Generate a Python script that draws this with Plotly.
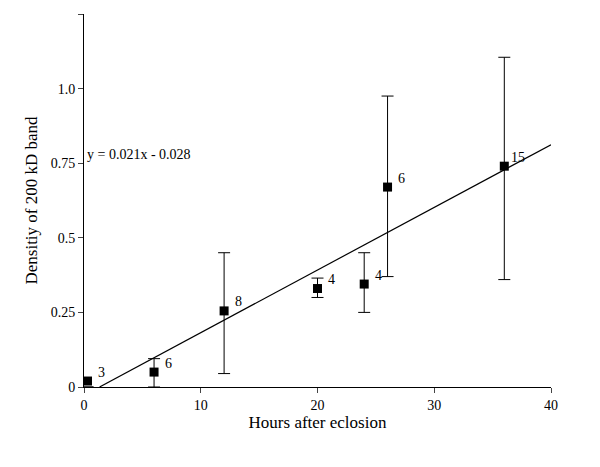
import plotly.graph_objects as go

hours = [0.3, 6, 12, 20, 24, 26, 36]
density = [0.02, 0.05, 0.255, 0.33, 0.345, 0.67, 0.74]
err_hi = [0.0, 0.095, 0.45, 0.365, 0.45, 0.975, 1.105]
err_lo = [0.0, 0.0, 0.045, 0.30, 0.25, 0.37, 0.36]
counts = ["3", "6", "8", "4", "4", "6", "15"]
slope, intercept = 0.021, -0.028
fit_x = [-intercept / slope, 40]

font = dict(family="Liberation Serif, Times New Roman, serif", size=14, color="black")

fig = go.Figure()
fig.add_trace(go.Scatter(
    x=fit_x, y=[slope * x + intercept for x in fit_x], mode="lines",
    line=dict(color="black", width=1.2), hoverinfo="skip"))
fig.add_trace(go.Scatter(
    x=hours, y=density, mode="markers",
    marker=dict(symbol="square", size=9, color="black"),
    error_y=dict(type="data", symmetric=False,
                 array=[h - d for h, d in zip(err_hi, density)],
                 arrayminus=[d - l for d, l in zip(density, err_lo)],
                 color="black", thickness=1, width=6)))

for x, y, c in zip(hours, density, counts):
    fig.add_annotation(x=x, y=y, text=c, showarrow=False, xshift=14, yshift=9,
                       font=font)

fig.add_annotation(x=0.1, y=0.78, xref="x", yref="y", xanchor="left",
                   text="y = 0.021x - 0.028", showarrow=False, font=font)

fig.update_layout(
    width=600, height=467, showlegend=False,
    plot_bgcolor="white", paper_bgcolor="white", font=font,
    margin=dict(l=76, r=57, t=6, b=88),
    xaxis=dict(range=[0, 40], tickvals=[0, 10, 20, 30, 40], ticks="outside",
               showline=True, linecolor="black", showgrid=False, zeroline=False,
               title=dict(text="Hours after eclosion", standoff=4)),
    yaxis=dict(range=[0, 1.25], tickvals=[0, 0.25, 0.5, 0.75, 1.0, 1.25],
               ticktext=["0", "0.25", "0.5", "0.75", "1.0", "1.25"], ticks="outside",
               showline=True, linecolor="black", showgrid=False, zeroline=False,
               title=dict(text="Densitiy of 200 kD band", standoff=8)),
)
fig.write_html("out.html")
